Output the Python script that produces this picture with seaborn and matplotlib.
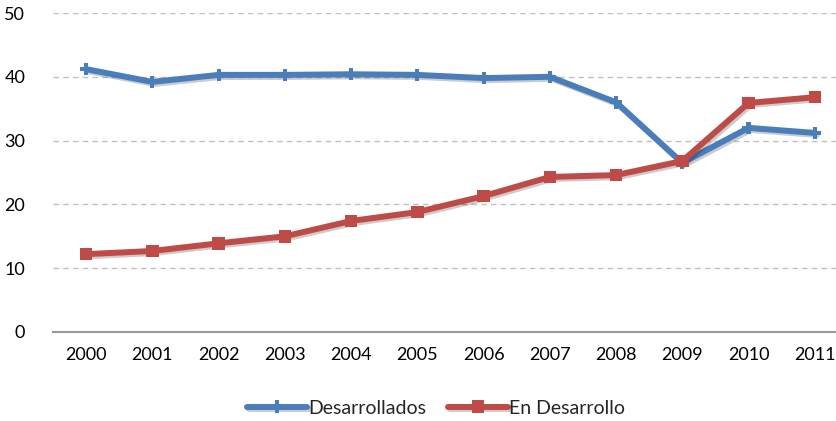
import pandas as pd
import seaborn as sns
import matplotlib.pyplot as plt
import matplotlib.patheffects as pe

years = ['2000', '2001', '2002', '2003', '2004', '2005',
         '2006', '2007', '2008', '2009', '2010', '2011']
desarrollados = [41.2, 39.2, 40.3, 40.3, 40.4, 40.3, 39.8, 40.0, 36.0, 26.5, 32.0, 31.2]
en_desarrollo = [12.2, 12.7, 13.9, 15.0, 17.4, 18.8, 21.3, 24.3, 24.6, 26.8, 35.9, 36.8]
series_names = ['Desarrollados', 'En Desarrollo']

df = pd.DataFrame({'year': years * 2,
                   'valor': desarrollados + en_desarrollo,
                   'serie': [series_names[0]] * 12 + [series_names[1]] * 12})
df['pos'] = df['year'].map({y: i for i, y in enumerate(years)})

sns.set_style('white')
plt.rcParams['font.family'] = ['Lato', 'DejaVu Sans']

fig = plt.figure(figsize=(8.36, 4.21), dpi=100)
ax = fig.add_axes([53 / 836, 1 - 332 / 421, 1 - 53 / 836, (332 - 13) / 421])

colors = {'Desarrollados': '#4A7EBB', 'En Desarrollo': '#BE4B48'}
shadow = [pe.SimpleLineShadow(offset=(1.5, -1.5), alpha=0.2, shadow_color='black'),
          pe.Normal()]
sns.lineplot(data=df, x='pos', y='valor', hue='serie', style='serie',
             markers={'Desarrollados': 'P', 'En Desarrollo': 's'},
             dashes=False, palette=colors, linewidth=4.3, markersize=9,
             markeredgewidth=0, ax=ax, path_effects=shadow)

ax.set_xlim(-0.5, 11.32)
ax.set_ylim(0, 50)
ax.set_yticks(range(0, 51, 10))
ax.set_xticks(range(len(years)))
ax.set_xticklabels(years)
ax.set_xlabel('')
ax.set_ylabel('')
ax.tick_params(axis='both', labelsize=13, colors='#000000', length=0)
ax.tick_params(axis='x', pad=11)
ax.tick_params(axis='y', pad=20)

ax.yaxis.grid(True, color='#c0c0c0', linestyle=(0, (4, 3)), linewidth=1)
ax.set_axisbelow(True)
for s in ['top', 'right', 'left']:
    ax.spines[s].set_visible(False)
ax.spines['bottom'].set_color('#999999')
ax.spines['bottom'].set_linewidth(1.5)

handles, labels = ax.get_legend_handles_labels()
ax.legend(handles, labels, loc='center', bbox_to_anchor=(436 / 836, 1 - 408 / 421),
          bbox_transform=fig.transFigure, ncol=2, frameon=False, fontsize=14,
          handlelength=3.1, handletextpad=0.05, columnspacing=1.1)

fig.savefig('out.png', dpi=100)
